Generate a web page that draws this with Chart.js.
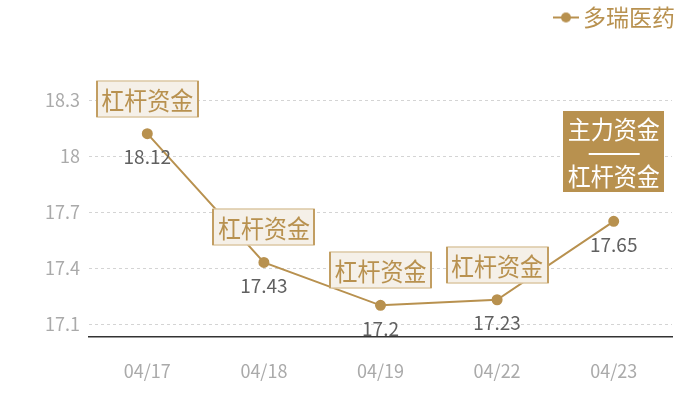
<!DOCTYPE html>
<html lang="zh">
<head>
    <meta charset="UTF-8">
    <title>多瑞医药</title>
    <style>
        body { margin: 0; background: #fff; }
    </style>
</head>
<body>
<canvas id="chart" width="700" height="400"></canvas>

<script src="https://cdn.jsdelivr.net/npm/chart.js"></script>
<script>
    const dates = ['04/17', '04/18', '04/19', '04/22', '04/23'];
    const prices = [18.12, 17.43, 17.2, 17.23, 17.65];
    const yTicks = [17.1, 17.4, 17.7, 18, 18.3];
    // which fund tags sit above each point
    const tags = [['杠杆资金'], ['杠杆资金'], ['杠杆资金'], ['杠杆资金'], ['主力资金', '杠杆资金']];

    const GOLD = '#b8914f';
    const FONT = '"Noto Sans CJK SC", "Noto Sans", sans-serif';

    // legend marker: short line with a dot
    const marker = document.createElement('canvas');
    marker.width = 26;
    marker.height = 12;
    const mctx = marker.getContext('2d');
    mctx.strokeStyle = GOLD;
    mctx.lineWidth = 2;
    mctx.beginPath();
    mctx.moveTo(0, 6);
    mctx.lineTo(26, 6);
    mctx.stroke();
    mctx.fillStyle = GOLD;
    mctx.beginPath();
    mctx.arc(13, 6, 5, 0, Math.PI * 2);
    mctx.fill();

    // tag text is a little taller than wide in the original
    function tallText(ctx, text, x, y) {
        ctx.save();
        ctx.translate(x, y);
        ctx.scale(1, 1.1);
        ctx.fillText(text, 0, 0);
        ctx.restore();
    }

    const tagPlugin = {
        id: 'tagPlugin',
        afterDatasetsDraw(chart) {
            const ctx = chart.ctx;
            const meta = chart.getDatasetMeta(0);
            ctx.save();
            meta.data.forEach((pt, i) => {
                // value label below point
                ctx.font = '19px ' + FONT;
                ctx.fillStyle = '#606060';
                ctx.textAlign = 'center';
                ctx.textBaseline = 'middle';
                ctx.fillText(String(prices[i]), pt.x, pt.y + 23);

                const t = tags[i];
                ctx.font = '23px ' + FONT;
                const w = 101;
                const left = Math.round(pt.x - w / 2);
                if (t.length === 1) {
                    const h = 36;
                    const top = Math.round(pt.y - 17 - h);
                    ctx.fillStyle = '#f5f0e8';
                    ctx.fillRect(left, top, w, h);
                    ctx.strokeStyle = '#dcc8a4';
                    ctx.lineWidth = 1.5;
                    ctx.strokeRect(left, top, w, h);
                    ctx.fillStyle = '#c29e62';
                    ctx.fillRect(left - 1, top, 2, h);
                    ctx.fillRect(left + w - 1, top, 2, h);
                    ctx.fillStyle = GOLD;
                    tallText(ctx, t[0], pt.x, top + h / 2 + 1);
                } else {
                    const h = 81;
                    const top = Math.round(pt.y - 29 - h);
                    ctx.fillStyle = GOLD;
                    ctx.fillRect(left, top, w, h);
                    ctx.fillStyle = '#fff';
                    tallText(ctx, t[0], pt.x, top + 18);
                    tallText(ctx, t[1], pt.x, top + 65);
                    ctx.strokeStyle = '#fff';
                    ctx.lineWidth = 2;
                    ctx.beginPath();
                    ctx.moveTo(pt.x - 25, top + 43);
                    ctx.lineTo(pt.x + 26, top + 43);
                    ctx.stroke();
                }
            });
            ctx.restore();
        }
    };

    new Chart(document.getElementById('chart'), {
        type: 'line',
        data: {
            labels: dates,
            datasets: [{
                label: '多瑞医药',
                data: prices,
                borderColor: GOLD,
                backgroundColor: GOLD,
                borderWidth: 2,
                pointRadius: 4.5,
                pointHoverRadius: 4.5,
                pointStyle: 'circle',
                tension: 0
            }]
        },
        options: {
            responsive: false,
            animation: false,
            devicePixelRatio: 1,
            layout: { padding: { top: 0, right: 19, left: 0, bottom: 0 } },
            plugins: {
                legend: {
                    position: 'top',
                    align: 'end',
                    labels: {
                        usePointStyle: true,
                        pointStyle: marker,
                        pointStyleWidth: 11,
                        color: GOLD,
                        font: { family: FONT, size: 23 },
                        padding: 6
                    }
                },
                tooltip: { enabled: false }
            },
            scales: {
                x: {
                    offset: true,
                    grid: { display: false, drawTicks: false },
                    border: { color: '#333', width: 1.5 },
                    ticks: { color: '#aaa', font: { family: FONT, size: 18 }, padding: 23, maxRotation: 0 },
                    afterFit: s => { s.height = 63; }
                },
                y: {
                    min: 17.0304,
                    max: 18.627,
                    afterBuildTicks: s => { s.ticks = yTicks.map(v => ({ value: v })); },
                    grid: { color: '#d4d4d4', drawTicks: false },
                    border: { display: false, dash: [3, 3] },
                    ticks: {
                        color: '#aaa',
                        font: { family: FONT, size: 18 },
                        padding: 9,
                        autoSkip: false,
                        callback: v => String(v)
                    },
                    afterFit: s => { s.width = 89; }
                },
                // empty right gutter so the legend can sit further right than the plot
                gutter: {
                    type: 'linear',
                    position: 'right',
                    grid: { display: false, drawTicks: false },
                    border: { display: false },
                    ticks: { display: false },
                    afterFit: s => { s.width = 9; }
                }
            }
        },
        plugins: [tagPlugin]
    });
</script>
</body>
</html>
